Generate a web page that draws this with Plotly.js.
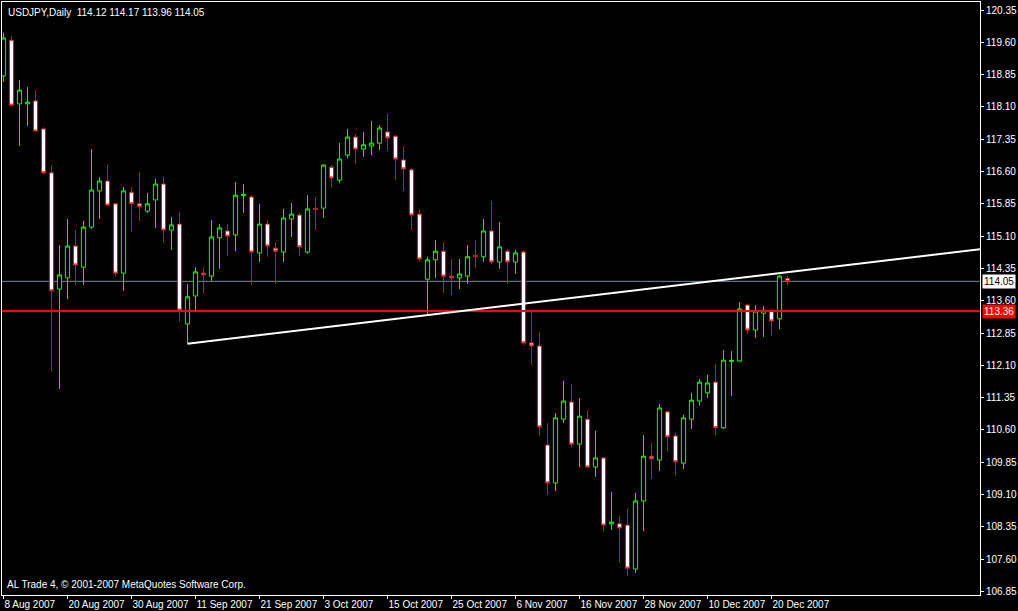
<!DOCTYPE html>
<html>
<head>
<meta charset="utf-8">
<script src="https://cdn.plot.ly/plotly-3.0.1.min.js"></script>
<style>
  html, body { margin: 0; padding: 0; background: #000; }
  #chart { width: 1018px; height: 611px; }
</style>
</head>
<body>
<div id="chart"></div>
<script>
// ---- Data (USDJPY, Daily) ----
const symbol = 'USDJPY';
const period = 'Daily';

const dates = [
  '2007-08-08','2007-08-09','2007-08-10','2007-08-13','2007-08-14','2007-08-15','2007-08-16','2007-08-17','2007-08-20','2007-08-21',
  '2007-08-22','2007-08-23','2007-08-24','2007-08-27','2007-08-28','2007-08-29','2007-08-30','2007-08-31','2007-09-03','2007-09-04',
  '2007-09-05','2007-09-06','2007-09-07','2007-09-10','2007-09-11','2007-09-12','2007-09-13','2007-09-14','2007-09-17','2007-09-18',
  '2007-09-19','2007-09-20','2007-09-21','2007-09-24','2007-09-25','2007-09-26','2007-09-27','2007-09-28','2007-10-01','2007-10-02',
  '2007-10-03','2007-10-04','2007-10-05','2007-10-08','2007-10-09','2007-10-10','2007-10-11','2007-10-12','2007-10-15','2007-10-16',
  '2007-10-17','2007-10-18','2007-10-19','2007-10-22','2007-10-23','2007-10-24','2007-10-25','2007-10-26','2007-10-29','2007-10-30',
  '2007-10-31','2007-11-01','2007-11-02','2007-11-05','2007-11-06','2007-11-07','2007-11-08','2007-11-09','2007-11-12','2007-11-13',
  '2007-11-14','2007-11-15','2007-11-16','2007-11-19','2007-11-20','2007-11-21','2007-11-22','2007-11-23','2007-11-26','2007-11-27',
  '2007-11-28','2007-11-29','2007-11-30','2007-12-03','2007-12-04','2007-12-05','2007-12-06','2007-12-07','2007-12-10','2007-12-11',
  '2007-12-12','2007-12-13','2007-12-14','2007-12-17','2007-12-18','2007-12-19','2007-12-20','2007-12-21','2007-12-24'
];

const open = [
  118.82,119.65,118.17,118.17,118.24,117.59,116.57,113.87,114.13,114.87,
  114.38,115.31,116.15,116.38,115.85,114.24,116.12,115.85,115.68,115.94,
  116.31,115.24,115.38,113.06,113.71,114.24,114.17,115.06,115.22,115.13,
  116.04,116.01,114.71,115.38,114.82,114.73,115.50,115.59,114.73,115.74,
  115.75,116.70,116.40,116.98,117.40,117.12,117.19,117.26,117.52,117.42,
  116.87,116.64,115.61,114.10,114.55,114.75,114.17,114.13,114.17,114.65,
  114.62,115.22,114.50,114.75,114.50,114.73,112.62,112.55,110.25,109.37,
  110.85,111.25,110.27,110.85,109.74,109.95,108.42,108.42,108.39,107.37,
  108.95,109.99,109.90,111.02,110.46,109.83,110.85,111.27,111.46,111.71,
  110.65,112.19,112.20,113.50,112.92,113.31,113.36,113.18,114.12
];

const high = [
  119.82,119.75,118.72,118.56,118.49,117.63,116.73,114.89,115.50,115.24,
  115.45,117.12,116.47,116.75,115.87,116.24,116.24,116.59,116.10,116.43,
  116.47,115.54,115.66,113.99,114.38,114.38,115.47,115.38,115.38,116.36,
  116.31,116.05,115.85,115.47,114.96,115.73,115.87,115.64,116.05,115.99,
  116.77,116.75,117.26,117.59,117.47,117.52,117.77,117.68,117.94,117.45,
  117.19,116.68,115.71,114.62,115.01,114.96,114.57,114.57,114.89,115.01,
  115.50,115.92,115.43,114.80,114.78,114.78,113.34,112.87,110.76,110.99,
  111.74,111.67,111.34,111.06,110.58,109.97,109.16,108.60,108.76,109.14,
  110.48,110.30,111.20,111.04,110.53,110.95,111.46,111.78,111.88,112.13,
  112.46,112.43,113.57,113.52,113.50,113.48,113.41,114.20,114.17
];

const low = [
  118.68,118.12,117.19,117.66,117.52,116.54,111.97,111.55,113.64,113.97,
  113.97,115.27,115.50,115.80,114.17,113.83,115.20,115.45,115.64,115.29,
  114.96,114.78,113.11,112.60,113.38,113.76,114.06,114.34,114.64,114.75,
  115.64,113.97,114.50,114.62,113.99,114.50,115.08,114.64,114.69,115.24,
  115.52,116.24,116.33,116.91,116.77,116.94,116.98,117.10,117.08,116.40,
  116.15,115.24,114.52,113.27,114.13,113.78,113.73,113.87,113.99,114.36,
  114.50,114.45,114.34,113.99,114.22,112.57,112.11,110.46,109.09,109.18,
  110.76,110.20,109.74,109.72,109.51,108.25,108.28,107.53,107.21,107.28,
  108.25,109.46,109.65,110.11,109.55,109.69,110.62,111.16,111.34,110.48,
  110.62,111.39,112.19,112.83,112.73,112.76,112.78,112.94,113.96
];

const close = [
  119.70,118.14,118.49,118.21,117.54,116.57,113.83,114.20,114.87,114.43,
  115.31,116.17,116.38,115.82,114.24,116.15,115.85,115.78,115.85,116.31,
  115.24,115.36,113.38,113.69,114.27,114.20,115.08,115.29,115.10,116.05,
  116.07,114.73,115.38,114.87,114.75,115.52,115.61,114.85,115.73,115.72,
  116.75,116.45,116.89,117.40,117.12,117.22,117.26,117.61,117.38,116.89,
  116.66,115.59,114.57,114.55,114.75,114.17,114.13,114.22,114.62,114.63,
  115.22,114.50,114.85,114.50,114.71,112.62,112.55,110.67,109.37,110.88,
  111.27,110.27,110.92,109.74,109.95,108.39,108.46,108.32,107.39,108.95,
  109.99,109.93,111.11,110.44,109.86,110.88,111.29,111.71,111.69,110.65,
  112.22,112.21,113.41,112.92,113.36,113.38,113.13,114.17,114.05
];

const priceTicks = [106.85,107.60,108.35,109.10,109.85,110.60,111.35,112.10,112.85,113.60,114.35,115.10,115.85,116.60,117.35,118.10,118.85,119.60,120.35];

const tickDates = ['2007-08-08','2007-08-20','2007-08-30','2007-09-11','2007-09-21','2007-10-03','2007-10-15','2007-10-25','2007-11-06','2007-11-16','2007-11-28','2007-12-10','2007-12-20'];
const tickText  = ['8 Aug 2007','20 Aug 2007','30 Aug 2007','11 Sep 2007','21 Sep 2007','3 Oct 2007','15 Oct 2007','25 Oct 2007','6 Nov 2007','16 Nov 2007','28 Nov 2007','10 Dec 2007','20 Dec 2007'];

const bidPrice = 114.05;          // current bid line
const hLinePrice = 113.36;        // horizontal line object
const trendDates = ['2007-09-10','2007-12-21'];  // trend line anchors (ray to the right)
const trendPrices = [112.60, 114.24];
const footerText = 'AL Trade 4, \u00a9 2001-2007 MetaQuotes Software Corp.';

// ---- Build chart ----
const FONT = 'Liberation Sans, Arial, sans-serif';
const FS = 10;
const idx = d => dates.indexOf(d);
const xs = dates.map((d, i) => i);
const xRange = [-0.1875, 122.0625];
const yRange = [106.767, 120.536];

const n = close.length - 1;
const headerText = symbol + ',' + period + '\u00a0 ' +
  [open[n], high[n], low[n], close[n]].map(v => v.toFixed(2)).join(' ');

// trend line ray extended to the right edge
const tx0 = idx(trendDates[0]), tx1 = idx(trendDates[1]);
const slope = (trendPrices[1] - trendPrices[0]) / (tx1 - tx0);
const txEnd = xRange[1];
const tyEnd = trendPrices[0] + slope * (txEnd - tx0);

const candle = {
  type: 'candlestick',
  x: xs, open: open, high: high, low: low, close: close,
  increasing: { line: { color: '#00ff00', width: 1 }, fillcolor: '#000000' },
  decreasing: { line: { color: '#ff0000', width: 1 }, fillcolor: '#ffffff' },
  whiskerwidth: 0,
  hoverinfo: 'skip',
  showlegend: false
};

const layout = {
  width: 1018, height: 611,
  paper_bgcolor: '#000', plot_bgcolor: '#000',
  margin: { l: 2, r: 38, t: 2, b: 16, pad: 0 },
  showlegend: false, hovermode: false, dragmode: false,
  boxgap: 0.25, boxgroupgap: 0.3,
  font: { family: FONT, size: FS, color: '#ffffff' },
  xaxis: {
    type: 'linear', range: xRange, fixedrange: true,
    showgrid: false, zeroline: false,
    showline: true, linecolor: '#ffffff', linewidth: 1, mirror: true,
    ticks: 'outside', ticklen: 3, tickwidth: 1, tickcolor: '#ffffff',
    tickvals: tickDates.map(idx), ticktext: tickText,
    ticklabelposition: 'outside right', tickangle: 0, automargin: false,
    tickfont: { family: FONT, size: FS, color: '#ffffff' },
    rangeslider: { visible: false }
  },
  yaxis: {
    side: 'right', range: yRange, fixedrange: true,
    showgrid: false, zeroline: false,
    showline: true, linecolor: '#ffffff', linewidth: 1, mirror: true,
    ticks: 'outside', ticklen: 3, tickwidth: 1, tickcolor: '#ffffff',
    tickvals: priceTicks, ticktext: priceTicks.map(v => v.toFixed(2)),
    tickfont: { family: FONT, size: FS, color: '#ffffff' }
  },
  shapes: [
    { type: 'line', layer: 'below', xref: 'paper', x0: 0, x1: 1, yref: 'y', y0: bidPrice, y1: bidPrice,
      line: { color: '#778899', width: 1 } },
    { type: 'line', layer: 'above', xref: 'paper', x0: 0, x1: 1, yref: 'y', y0: hLinePrice, y1: hLinePrice,
      line: { color: '#ff0000', width: 2 } },
    { type: 'line', layer: 'above', xref: 'x', yref: 'y', x0: tx0, y0: trendPrices[0], x1: txEnd, y1: tyEnd,
      line: { color: '#ffffff', width: 2 } }
  ],
  annotations: [
    { xref: 'paper', yref: 'paper', x: 0, y: 1, xanchor: 'left', yanchor: 'top', xshift: 4, yshift: -3,
      text: headerText, showarrow: false, font: { family: FONT, size: FS, color: '#ffffff' } },
    { xref: 'paper', yref: 'paper', x: 0, y: 0, xanchor: 'left', yanchor: 'bottom', xshift: 3, yshift: 3,
      text: footerText, showarrow: false, font: { family: FONT, size: FS, color: '#ffffff' } },
    { xref: 'paper', yref: 'y', x: 1, y: bidPrice, xanchor: 'left', xshift: 2, text: bidPrice.toFixed(2),
      showarrow: false, bgcolor: '#ffffff', borderpad: 1, font: { family: FONT, size: FS, color: '#000000' } },
    { xref: 'paper', yref: 'y', x: 1, y: hLinePrice, xanchor: 'left', xshift: 2, text: hLinePrice.toFixed(2),
      showarrow: false, bgcolor: '#ff0000', borderpad: 1, font: { family: FONT, size: FS, color: '#ffffff' } }
  ]
};

Plotly.newPlot('chart', [candle], layout, { staticPlot: true, displayModeBar: false });
</script>
</body>
</html>
